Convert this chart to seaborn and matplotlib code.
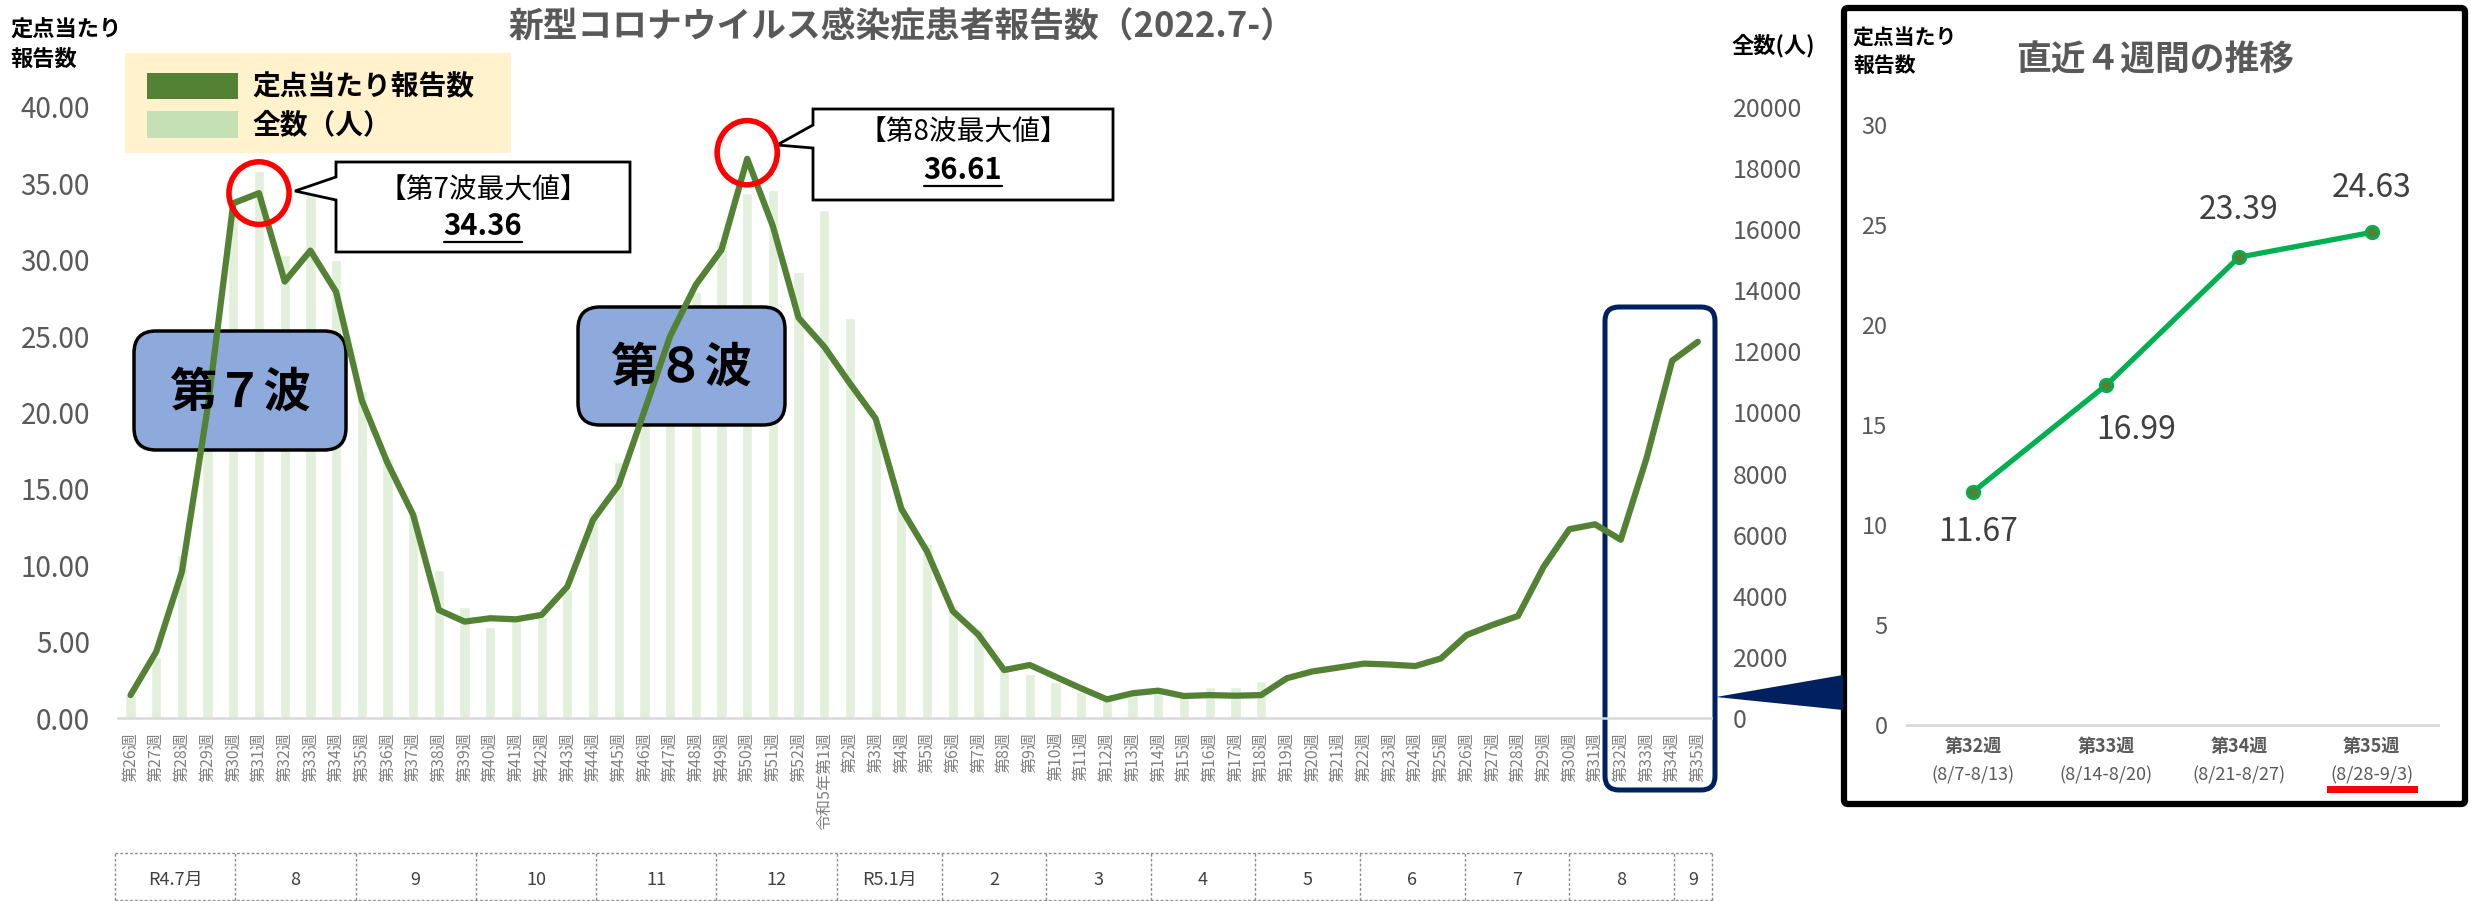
import numpy as np
import pandas as pd
import matplotlib
matplotlib.use("Agg")
import matplotlib.pyplot as plt
import matplotlib.transforms as mtrans
from matplotlib.patches import FancyBboxPatch, Ellipse, Polygon, Rectangle
from matplotlib.lines import Line2D
import seaborn as sns

# ---------------- data ----------------
week_labels = [f"第{n}週" for n in range(26, 53)] + ["令和5年第1週"] + [f"第{n}週" for n in range(2, 36)]

rate = [1.50, 4.34, 9.58, 20.3, 33.7, 34.36, 28.57, 30.6, 27.9, 20.8,
        16.7, 13.3, 7.07, 6.31, 6.53, 6.46, 6.75, 8.6, 12.97, 15.26,
        20.1, 25.0, 28.36, 30.65, 36.61, 32.2, 26.2, 24.3, 21.9, 19.6,
        13.7, 10.9, 7.0, 5.45, 3.14, 3.47, 2.7, 1.94, 1.22, 1.62,
        1.79, 1.44, 1.5, 1.46, 1.5, 2.6, 3.05, 3.3, 3.56, 3.5,
        3.4, 3.9, 5.43, 6.09, 6.68, 9.91, 12.36, 12.68, 11.67, 16.99,
        23.39, 24.63]

counts = [750, 2000, 5340, 10500, 16860, 17900, 15160, 17400, 15000, 10690,
          8500, 6700, 4850, 3630, 2990, 3200, 3300, 4200, 6710, 8390,
          10300, 12000, 13960, 15600, 17200, 17290, 14610, 16630, 13090, 9650,
          6860, 5700, 3700, 2900, 1630, 1440, 1190, 860, 590, 750,
          860, 700, 1000, 1000, 1220]

month_labels = ["R4.7月", "8", "9", "10", "11", "12", "R5.1月", "2", "3", "4", "5", "6", "7", "8", "9"]
month_edges = [-0.6, 4.08, 8.76, 13.44, 18.12, 22.8, 27.5, 31.57, 35.64, 39.71,
               43.78, 47.85, 51.92, 55.99, 60.06, 61.55]

recent_weeks = ["第32週", "第33週", "第34週", "第35週"]
recent_dates = ["(8/7-8/13)", "(8/14-8/20)", "(8/21-8/27)", "(8/28-9/3)"]
recent_vals = [11.67, 16.99, 23.39, 24.63]

peak7_idx, peak8_idx = 5, 24

# ---------------- setup ----------------
W, H, DPI = 2471, 901, 100
sns.set_theme(style="white")
plt.rcParams["font.family"] = ["Noto Sans CJK JP", "DejaVu Sans"]
fig = plt.figure(figsize=(W / DPI, H / DPI), dpi=DPI)
fig.patch.set_facecolor("white")
IN = fig.dpi_scale_trans


def P(x, y):
    return (x / DPI, (H - y) / DPI)


GRAY = "#595959"

# ---------------- main chart ----------------
ax = fig.add_axes([117.7 / W, 1 - 718 / H, (1710.7 - 117.7) / W, (718 - 107) / H])
ax2 = ax.twinx()

x_idx = np.arange(len(week_labels))
dfb = pd.DataFrame({"x": x_idx[:len(counts)], "count": counts})
df = pd.DataFrame({"x": x_idx, "rate": rate})

sns.barplot(data=dfb, x="x", y="count", ax=ax2, color="#E2EFDA", width=0.4,
            saturation=1, errorbar=None)
sns.lineplot(data=df, x="x", y="rate", ax=ax, color="#548235", linewidth=4.5)

ax.set_zorder(ax2.get_zorder() + 1)
ax.patch.set_visible(False)

ax.set_xticks(x_idx)
ax.set_xticklabels(week_labels, rotation=90, fontsize=11.5, color="#808080")
ax.set_xticks(np.arange(-0.5, 62, 2), minor=True)
ax.tick_params(axis="x", which="major", length=0, pad=10)
ax.tick_params(axis="x", which="minor", length=5, width=1.5, color="#D9D9D9")

ax.set_yticks(np.arange(0, 41, 5))
ax.set_yticklabels([f"{v:.2f}" for v in np.arange(0, 41, 5)], fontsize=20, color=GRAY)
ax.tick_params(axis="y", length=0, pad=20)
ax2.set_yticks(np.arange(0, 20001, 2000))
ax2.set_yticklabels([str(v) for v in range(0, 20001, 2000)], fontsize=18, color=GRAY)
ax2.tick_params(axis="y", length=0, pad=16)

for a in (ax, ax2):
    a.set_xlabel("")
    a.set_ylabel("")
    for s in a.spines.values():
        s.set_visible(False)
ax.spines["bottom"].set_visible(True)
ax.spines["bottom"].set_color("#D9D9D9")
ax.spines["bottom"].set_linewidth(1.8)

ax.set_xlim(-0.5, 61.5)
ax.set_ylim(0, 40)
ax2.set_ylim(0, 20000)

# month table
bt = mtrans.blended_transform_factory(ax.transData, IN)
y_top, y_bot = (H - 853) / DPI, 0.012
tbl_kw = dict(transform=bt, color="#8C8C8C", lw=1.0, ls=(0, (2, 1.5)))
for e in month_edges:
    fig.add_artist(Line2D([e, e], [y_bot, y_top], **tbl_kw))
fig.add_artist(Line2D([month_edges[0], month_edges[-1]], [y_top, y_top], **tbl_kw))
fig.add_artist(Line2D([month_edges[0], month_edges[-1]], [y_bot, y_bot], **tbl_kw))
for lab, a0, a1 in zip(month_labels, month_edges[:-1], month_edges[1:]):
    fig.text((a0 + a1) / 2, (H - 880) / DPI, lab, transform=bt, ha="center", va="center",
             fontsize=13, color="#404040")

# titles / axis labels
fig.text(*P(902, 27), "新型コロナウイルス感染症患者報告数（2022.7-）", transform=IN,
         ha="center", va="center", fontsize=25, fontweight="bold", color=GRAY)
fig.text(*P(10, 45), "定点当たり\n報告数", transform=IN, ha="left", va="center",
         fontsize=16, fontweight="bold", color="black", linespacing=1.35)
fig.text(*P(1773, 46), "全数(人)", transform=IN, ha="center", va="center",
         fontsize=16, fontweight="bold", color="black")

# legend
fig.add_artist(Rectangle(P(125, 153), 386 / DPI, 100 / DPI, transform=IN,
                         facecolor="#FFF2CC", edgecolor="none"))
fig.add_artist(Rectangle(P(147, 99), 91 / DPI, 26 / DPI, transform=IN,
                         facecolor="#548235", edgecolor="none"))
fig.add_artist(Rectangle(P(147, 138), 91 / DPI, 27 / DPI, transform=IN,
                         facecolor="#C5E0B4", edgecolor="none"))
fig.text(*P(252, 87), "定点当たり報告数", transform=IN, ha="left", va="center",
         fontsize=20, fontweight="bold", color="black")
fig.text(*P(252, 125), "全数（人）", transform=IN, ha="left", va="center",
         fontsize=20, fontweight="bold", color="black")

# wave boxes
def wave_box(x0, y0, x1, y1, text):
    fig.add_artist(FancyBboxPatch(P(x0, y1), (x1 - x0) / DPI, (y1 - y0) / DPI,
                                  boxstyle="round,pad=0,rounding_size=0.22", transform=IN,
                                  facecolor="#8EA9DB", edgecolor="black", lw=2.5))
    fig.text(*P((x0 + x1) / 2, (y0 + y1) / 2 + 2), text, transform=IN, ha="center",
             va="center", fontsize=34, fontweight="bold", color="black")


wave_box(134, 331, 346, 450, "第７波")
wave_box(578, 307, 785, 425, "第８波")

# red circles at peaks
ax.add_patch(Ellipse((peak7_idx, rate[peak7_idx]), 2.34, 4.1, fill=False,
                     edgecolor="#FF0000", lw=4, clip_on=False, zorder=10))
ax.add_patch(Ellipse((peak8_idx, rate[peak8_idx] + 0.4), 2.34, 4.2, fill=False,
                     edgecolor="#FF0000", lw=4, clip_on=False, zorder=10))

# callouts
def callout(x0, y0, x1, y1, py0, tip, py1, title, val, tcy, vcy):
    pts = [P(x0, y0), P(x1, y0), P(x1, y1), P(x0, y1), P(x0, py1), P(*tip), P(x0, py0)]
    fig.add_artist(Polygon(pts, closed=True, transform=IN, facecolor="white",
                           edgecolor="black", lw=2))
    cx = (x0 + x1) / 2
    fig.text(*P(cx, tcy), title, transform=IN, ha="center", va="center",
             fontsize=20, color="black")
    t = fig.text(*P(cx, vcy), val, transform=IN, ha="center", va="center",
                 fontsize=21, fontweight="bold", color="black")
    return t


v1 = callout(336, 162, 630, 252, 177, (295, 191), 200, "【第7波最大値】",
             f"{rate[peak7_idx]:.2f}", 191, 226)
v2 = callout(813, 109, 1113, 200, 125, (777, 145), 148, "【第8波最大値】",
             f"{rate[peak8_idx]:.2f}", 133, 170)

# navy box around recent weeks + pointer triangle
fig.add_artist(FancyBboxPatch(P(1605, 790), 110 / DPI, 483 / DPI,
                              boxstyle="round,pad=0,rounding_size=0.14", transform=IN,
                              facecolor="none", edgecolor="#002060", lw=3.6))
fig.add_artist(Polygon([P(1716, 697), P(1843, 675), P(1843, 710)], closed=True,
                       transform=IN, facecolor="#002060", edgecolor="none"))

# ---------------- inset ----------------
fig.add_artist(FancyBboxPatch(P(1844, 804), 621 / DPI, 796 / DPI,
                              boxstyle="round,pad=0,rounding_size=0.04", transform=IN,
                              facecolor="white", edgecolor="black", lw=4.5, zorder=0.5))

axi = fig.add_axes([1907 / W, 1 - 725 / H, (2438 - 1907) / W, (725 - 125) / H])
axi.set_zorder(2)
axi.patch.set_visible(False)
dfi = pd.DataFrame({"x": np.arange(len(recent_vals)), "v": recent_vals})
sns.lineplot(data=dfi, x="x", y="v", ax=axi, color="#00B050", linewidth=3.8,
             marker="o", markersize=9, markerfacecolor="#548235",
             markeredgecolor="#00B050", markeredgewidth=2)
axi.set_xlim(-0.5, 3.5)
axi.set_ylim(0, 30)
axi.set_xlabel("")
axi.set_ylabel("")
axi.set_yticks(np.arange(0, 31, 5))
axi.set_yticklabels([str(v) for v in range(0, 31, 5)], fontsize=17, color=GRAY)
axi.tick_params(axis="y", length=0, pad=14)
axi.set_xticks(np.arange(4))
axi.set_xticklabels(recent_weeks, fontsize=13, fontweight="bold", color=GRAY)
axi.set_xticks(np.arange(-0.5, 4, 1), minor=True)
axi.tick_params(axis="x", which="major", length=0, pad=9)
axi.tick_params(axis="x", which="minor", length=5, width=1.5, color="#D9D9D9")
for s in axi.spines.values():
    s.set_visible(False)
axi.spines["bottom"].set_visible(True)
axi.spines["bottom"].set_color("#D9D9D9")
axi.spines["bottom"].set_linewidth(2)

for i, d in enumerate(recent_dates):
    axi.annotate(d, xy=(i, 0), xycoords=("data", "axes fraction"), xytext=(0, -36),
                 textcoords="offset points", ha="center", va="center", fontsize=13,
                 color=GRAY, annotation_clip=False)

label_offsets = [(3.6, -29), (21.6, -32), (0, 34), (0, 32)]
for i, (v, off) in enumerate(zip(recent_vals, label_offsets)):
    axi.annotate(f"{v:.2f}", xy=(i, v), xytext=off, textcoords="offset points",
                 ha="center", va="center", fontsize=23, color="#404040",
                 annotation_clip=False)

fig.add_artist(Rectangle(P(2327, 793), 91 / DPI, 7 / DPI, transform=IN,
                         facecolor="#FF0000", edgecolor="none"))

fig.text(*P(1853, 52), "定点当たり\n報告数", transform=IN, ha="left", va="center",
         fontsize=15, fontweight="bold", color="black", linespacing=1.35)
fig.text(*P(2155, 60), "直近４週間の推移", transform=IN, ha="center", va="center",
         fontsize=25, fontweight="bold", color=GRAY)

# underline the maximum values
fig.canvas.draw()
for t in (v1, v2):
    bb = t.get_window_extent()
    fig.add_artist(Line2D([bb.x0, bb.x1], [bb.y0 - 1, bb.y0 - 1],
                          transform=mtrans.IdentityTransform(), color="black", lw=1.6))

fig.savefig("out.png", dpi=DPI, facecolor="white")
